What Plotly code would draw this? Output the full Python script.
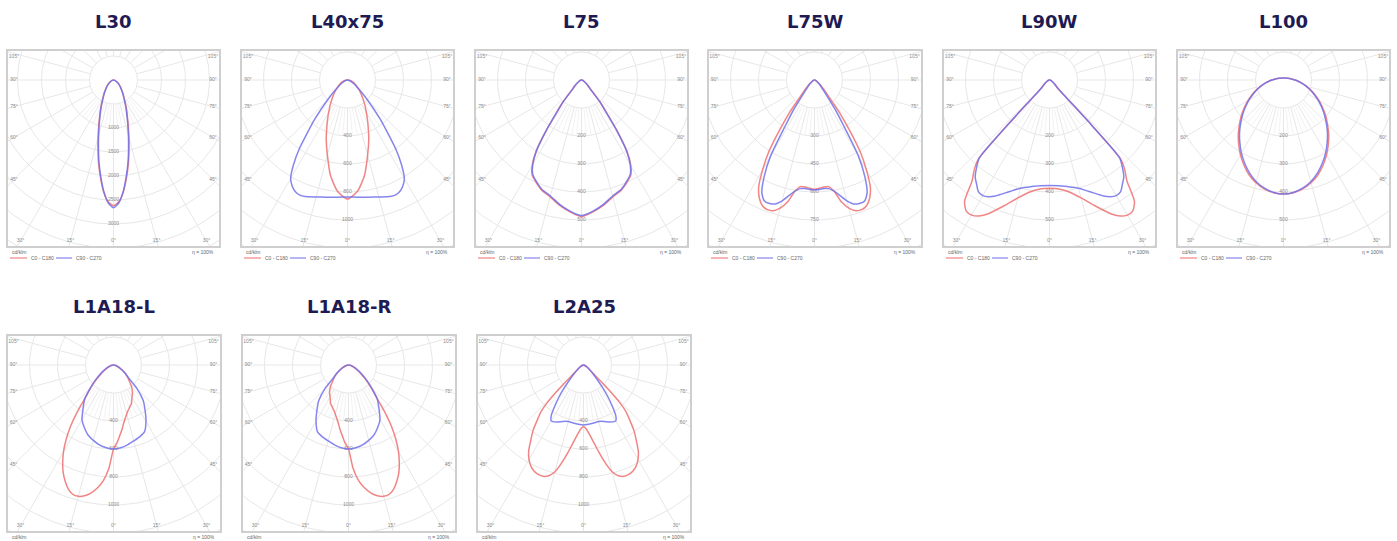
import numpy as np
import plotly.graph_objects as go

# Photometric polar curves, intensities in cd/klm against gamma (deg from nadir).
# red = C0-C180 plane, blue = C90-C270 plane; first list drawn to the right, second to the left.

L30_G = [0, 2.5, 5, 7.5, 10, 12.5, 15, 17.5, 20, 22.5, 25, 27.5, 30, 35, 40, 45, 50, 60, 75, 90]
L30_C0 = [2620, 2540, 2340, 2060, 1780, 1490, 1240, 1030, 860, 730, 620, 525, 450, 345, 260, 205, 160, 85, 30, 0]
L30_C90 = [2660, 2560, 2330, 2030, 1740, 1450, 1200, 995, 830, 705, 600, 505, 435, 330, 250, 195, 150, 80, 28, 0]

L40X75_G = [0, 5, 10, 15, 20, 22.5, 25, 27.5, 30, 32.5, 35, 37.5, 40, 45, 50, 60, 75, 90]
L40X75_C0 = [850, 800, 695, 555, 445, 390, 345, 305, 270, 240, 215, 190, 170, 135, 105, 68, 28, 0]
L40X75_C90 = [835, 840, 850, 865, 885, 890, 880, 855, 812, 718, 600, 462, 362, 202, 120, 50, 15, 0]

L75_G = [0, 5, 10, 15, 20, 25, 27.5, 30, 32.5, 35, 37.5, 40, 45, 50, 60, 75, 90]
L75_C0 = [488, 473, 454, 432, 418, 395, 382, 352, 302, 220, 145, 105, 44, 29, 11, 4, 0]
L75_C90 = [484, 470, 451, 429, 415, 392, 378, 348, 298, 216, 141, 102, 42, 28, 11, 4, 0]

L75W_G = [0, 2.5, 5, 7.5, 10, 12.5, 15, 17.5, 20, 22.5, 25, 27.5, 30, 32.5, 35, 37.5, 40, 45, 50, 60, 75, 90]
L75W_C0 = [586, 581, 576, 576, 605, 670, 711, 734, 739, 729, 699, 648, 556, 456, 324, 220, 126, 70, 43, 16, 5, 0]
L75W_C90 = [589, 587, 584, 587, 605, 635, 670, 696, 704, 702, 667, 584, 471, 292, 198, 118, 80, 48, 32, 13, 4, 0]

L90W_G = [0, 5, 10, 15, 20, 25, 27.5, 30, 32.5, 35, 37.5, 40, 42, 43, 43.5, 44, 46, 50, 60, 75, 90]
L90W_C0 = [387, 391, 406, 436, 479, 529, 548, 557, 554, 529, 454, 418, 379, 221, 107, 61, 36, 29, 11, 4, 0]
L90W_C90 = [377, 379, 387, 400, 425, 457, 470, 477, 473, 454, 436, 404, 375, 221, 107, 61, 36, 25, 11, 4, 0]

L100_G = [0, 5, 10, 15, 20, 25, 30, 35, 40, 45, 50, 55, 60, 65, 70, 75, 80, 85, 90, 95, 100, 110, 120, 150, 180]
L100_C0 = [407, 404, 395, 380, 360, 335, 308, 279, 251, 222, 196, 170, 146, 124, 103, 85, 68, 53, 42, 33, 26, 17.5, 13, 8, 7]
L100_C90 = [407, 403, 392, 376, 354, 328, 301, 272, 244, 216, 190, 165, 142, 120, 100, 82, 66, 52, 41, 32, 26, 17.5, 13, 8, 7]

L1A18_G = [0, 2.5, 5, 7.5, 10, 12.5, 15, 17.5, 20, 22.5, 25, 27.5, 30, 32.5, 35, 37.5, 40, 45, 50, 60, 75, 90]
L1A18_C_WIDE = [600, 736, 829, 886, 929, 957, 971, 968, 943, 900, 850, 786, 714, 629, 536, 429, 329, 229, 157, 71, 21, 0]
L1A18_C_NARROW = [600, 557, 507, 464, 421, 389, 364, 343, 329, 314, 304, 282, 264, 250, 236, 218, 200, 157, 129, 71, 21, 0]
L1A18_GB = [0, 5, 10, 15, 20, 25, 30, 35, 40, 45, 50, 55, 60, 75, 90]
L1A18_C90_A = [600, 593, 579, 557, 532, 493, 450, 379, 321, 236, 171, 121, 86, 29, 0]
L1A18_C90_B = [600, 593, 579, 561, 546, 525, 464, 393, 329, 236, 136, 100, 71, 21, 0]

L2A25_G = [0, 2.5, 5, 7.5, 10, 12.5, 15, 17.5, 20, 22.5, 25, 27.5, 30, 32.5, 35, 37.5, 40, 42.5, 44, 45, 46, 47.5, 50, 60, 75, 90]
L2A25_C0 = [441, 457, 500, 557, 632, 714, 789, 829, 846, 846, 836, 814, 779, 729, 657, 593, 514, 443, 371, 300, 214, 129, 71, 29, 7, 0]
L2A25_GB = [0, 5, 10, 15, 20, 25, 30, 32.5, 35, 37.5, 40, 42.5, 45, 50, 60, 75, 90]
L2A25_C90 = [429, 425, 421, 418, 429, 450, 461, 429, 357, 286, 214, 157, 114, 71, 29, 7, 0]

W, H = 1397, 541
CX, CY = 106.5, 30          # polar centre inside each frame, px from frame left/top
RED = "rgba(238,110,110,0.85)"
BLUE = "rgba(112,112,235,0.85)"
GRID = "#e7e7e7"
FINE = "#efefef"
LBL = "#8a8a8a"
NAVY = "#1f1b52"

panels = [
    dict(title="L30", left=7, top=50, w=213, h=197, step=500, ring=24,
         red=(L30_G, L30_C0, L30_C0), blue=(L30_G, L30_C90, L30_C90)),
    dict(title="L40x75", left=241, top=50, w=213, h=197, step=200, ring=28,
         red=(L40X75_G, L40X75_C0, L40X75_C0), blue=(L40X75_G, L40X75_C90, L40X75_C90)),
    dict(title="L75", left=475, top=50, w=213, h=197, step=100, ring=28,
         red=(L75_G, L75_C0, L75_C0), blue=(L75_G, L75_C90, L75_C90)),
    dict(title="L75W", left=708, top=50, w=214, h=197, step=150, ring=28,
         red=(L75W_G, L75W_C0, L75W_C0), blue=(L75W_G, L75W_C90, L75W_C90)),
    dict(title="L90W", left=943, top=50, w=213, h=197, step=100, ring=28,
         red=(L90W_G, L90W_C0, L90W_C0), blue=(L90W_G, L90W_C90, L90W_C90)),
    dict(title="L100", left=1177, top=50, w=213, h=197, step=100, ring=28,
         red=(L100_G, L100_C0, L100_C0), blue=(L100_G, L100_C90, L100_C90)),
    dict(title="L1A18-L", left=7, top=335, w=214, h=197, step=200, ring=28,
         red=(L1A18_G, L1A18_C_NARROW, L1A18_C_WIDE), blue=(L1A18_GB, L1A18_C90_B, L1A18_C90_A)),
    dict(title="L1A18-R", left=242, top=335, w=214, h=197, step=200, ring=28,
         red=(L1A18_G, L1A18_C_WIDE, L1A18_C_NARROW), blue=(L1A18_GB, L1A18_C90_A, L1A18_C90_B)),
    dict(title="L2A25", left=477, top=335, w=214, h=197, step=200, ring=28,
         red=(L2A25_G, L2A25_C0, L2A25_C0), blue=(L2A25_GB, L2A25_C90, L2A25_C90)),
]


def curve_xy(g, right, left):
    a = np.radians(g)
    r = np.asarray(right, float)
    l = np.asarray(left, float)
    x = np.concatenate([(-l * np.sin(a))[::-1], (r * np.sin(a))[1:]])
    y = np.concatenate([(-l * np.cos(a))[::-1], (-r * np.cos(a))[1:]])
    return x, y


def px(x, y):
    return x / W, 1 - y / H


fig = go.Figure()
annotations = []
shapes = []

for i, p in enumerate(panels, start=1):
    xa = "x" if i == 1 else f"x{i}"
    ya = "y" if i == 1 else f"y{i}"
    s = p["step"] / p["ring"]          # cd/klm per pixel
    step = p["step"]

    # grid rings + 15 deg radial lines
    t = np.linspace(0, 2 * np.pi, 241)
    gx, gy = [], []
    for k in range(1, 10):
        gx += list(k * step * np.sin(t)) + [None]
        gy += list(k * step * np.cos(t)) + [None]
    for a in range(0, 360, 15):
        ar = np.radians(a)
        gx += [step * np.sin(ar), 10 * step * np.sin(ar), None]
        gy += [-step * np.cos(ar), -10 * step * np.cos(ar), None]
    fig.add_trace(go.Scatter(x=gx, y=gy, mode="lines", xaxis=xa, yaxis=ya,
                             line=dict(color=GRID, width=1), hoverinfo="skip", showlegend=False))
    # fine 5 deg lines between the first two rings
    fx, fy = [], []
    for a in range(-40, 45, 5):
        if a % 15 == 0:
            continue
        ar = np.radians(a)
        fx += [step * np.sin(ar), 2 * step * np.sin(ar), None]
        fy += [-step * np.cos(ar), -2 * step * np.cos(ar), None]
    fig.add_trace(go.Scatter(x=fx, y=fy, mode="lines", xaxis=xa, yaxis=ya,
                             line=dict(color=FINE, width=0.8), hoverinfo="skip", showlegend=False))

    # ring value labels on the vertical axis
    kmax = int(160 // p["ring"])
    ks = list(range(2, kmax + 1))
    fig.add_trace(go.Scatter(x=[0] * len(ks), y=[-k * step for k in ks], mode="text",
                             text=[str(k * step) for k in ks], xaxis=xa, yaxis=ya,
                             textfont=dict(size=5, color=LBL, family="Liberation Sans"),
                             hoverinfo="skip", showlegend=False, cliponaxis=False))

    # angle labels along the frame
    xe = p["w"] / 2 - 7
    ybot = p["h"] - CY - 6
    lx, ly, lt = [], [], []
    for a in [105, 90, 75, 60, 45]:
        ar = np.radians(a)
        tt = xe / np.sin(ar)
        yy = min(-tt * np.cos(ar), CY - 7)
        for sgn in (-1, 1):
            lx.append(sgn * xe * s)
            ly.append(yy * s)
            lt.append(f"{a}°")
    for a in [30, 15, 0]:
        xx = min(ybot * np.tan(np.radians(a)), xe - 2)
        for sgn in ((-1, 1) if a else (1,)):
            lx.append(sgn * xx * s)
            ly.append(-ybot * s)
            lt.append(f"{a}°")
    fig.add_trace(go.Scatter(x=lx, y=ly, mode="text", text=lt, xaxis=xa, yaxis=ya,
                             textfont=dict(size=5, color=LBL, family="Liberation Sans"),
                             hoverinfo="skip", showlegend=False, cliponaxis=False))

    # light distribution curves
    for key, col in (("red", RED), ("blue", BLUE)):
        x, y = curve_xy(*p[key])
        fig.add_trace(go.Scatter(x=x, y=y, mode="lines", xaxis=xa, yaxis=ya,
                                 line=dict(color=col, width=1.5, shape="spline", smoothing=0.6),
                                 hoverinfo="skip", showlegend=False))

    L, T, w, h = p["left"], p["top"], p["w"], p["h"]
    ax = dict(range=[-CX * s, (w - CX) * s], domain=[L / W, (L + w) / W],
              visible=False, fixedrange=True)
    ay = dict(range=[-(h - CY) * s, CY * s], domain=[1 - (T + h) / H, 1 - T / H],
              visible=False, fixedrange=True)
    fig.update_layout(**{("xaxis" if i == 1 else f"xaxis{i}"): dict(ax, anchor=ya),
                         ("yaxis" if i == 1 else f"yaxis{i}"): dict(ay, anchor=xa)})

    # frame
    x0, y0 = px(L, T)
    x1, y1 = px(L + w, T + h)
    shapes.append(dict(type="rect", xref="paper", yref="paper", x0=x0, y0=y1, x1=x1, y1=y0,
                       line=dict(color="#cfcfcf", width=2)))

    # title
    tx, ty = px(L + w / 2, T - 29)
    annotations.append(dict(x=tx, y=ty, xref="paper", yref="paper", text=f"<b>{p['title']}</b>",
                            showarrow=False, xanchor="center", yanchor="middle",
                            font=dict(family="DejaVu Sans", size=18, color=NAVY)))

    # legend under the frame (only what fits in the picture)
    small = dict(family="Liberation Sans", size=5, color="#666666")
    yl1 = min(T + h + 5, H - 4)
    for txt, xx, yy, anc in (("cd/klm", L + 3, yl1, "left"),
                             ("η = 100%", L + w - 4, yl1, "right")):
        ax_, ay_ = px(xx, yy)
        annotations.append(dict(x=ax_, y=ay_, xref="paper", yref="paper", text=txt, showarrow=False,
                                xanchor=anc, yanchor="middle", font=small))
    yl2 = T + h + 11
    if yl2 < H - 3:
        for txt, xx in (("C0 - C180", L + 22), ("C90 - C270", L + 67)):
            ax_, ay_ = px(xx, yl2)
            annotations.append(dict(x=ax_, y=ay_, xref="paper", yref="paper", text=txt,
                                    showarrow=False, xanchor="left", yanchor="middle", font=small))
        for xa0, xa1, col in ((L + 3, L + 20, RED), (L + 49, L + 65, BLUE)):
            sx0, sy = px(xa0, yl2)
            sx1, _ = px(xa1, yl2)
            shapes.append(dict(type="line", xref="paper", yref="paper", x0=sx0, x1=sx1, y0=sy, y1=sy,
                               line=dict(color=col, width=1.2)))

fig.update_layout(width=W, height=H, margin=dict(l=0, r=0, t=0, b=0), autosize=False,
                  paper_bgcolor="white", plot_bgcolor="white",
                  annotations=annotations, shapes=shapes, showlegend=False)

fig.write_html("out.html", config={"displayModeBar": False},
               post_script="document.body.style.margin='0';")
